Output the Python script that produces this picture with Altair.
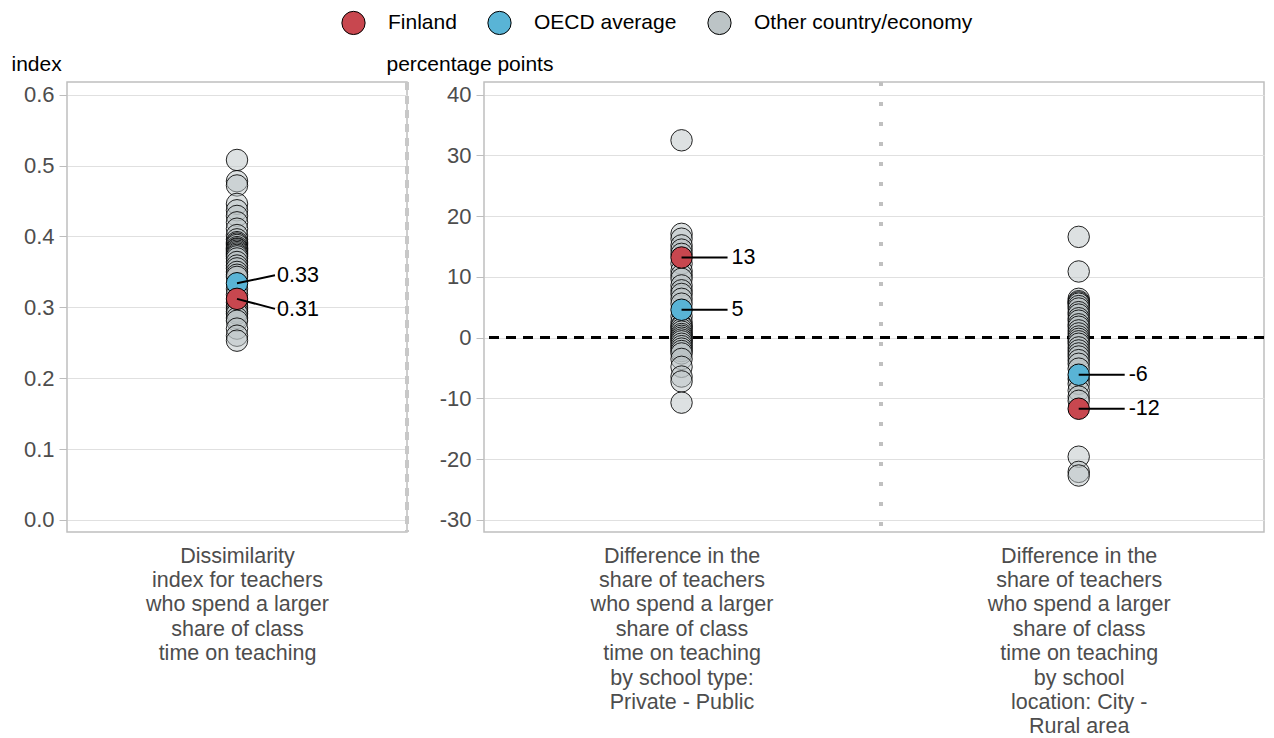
import altair as alt
import pandas as pd

FONT = "Arial, Liberation Sans, sans-serif"

group_names = ["Finland", "OECD average", "Other country/economy"]
group_colors = ["#c8474f", "#59b4d6", "#bcc4c6"]

left_cat = "Dissimilarity\nindex for teachers\nwho spend a larger\nshare of class\ntime on teaching"
mid_cat = "Difference in the\nshare of teachers\nwho spend a larger\nshare of class\ntime on teaching\nby school type:\nPrivate - Public"
right_cat = "Difference in the\nshare of teachers\nwho spend a larger\nshare of class\ntime on teaching\nby school\nlocation: City -\nRural area"

left_other = [0.508, 0.478, 0.472, 0.446, 0.437, 0.429, 0.420, 0.411, 0.402, 0.396,
              0.392, 0.390, 0.388, 0.385, 0.383, 0.382, 0.380, 0.378, 0.376, 0.374,
              0.372, 0.369, 0.364, 0.359, 0.355, 0.350, 0.346, 0.343, 0.326, 0.318,
              0.307, 0.302, 0.298, 0.294, 0.291, 0.285, 0.281, 0.270, 0.260, 0.253]
left_finland = 0.312
left_oecd = 0.334

mid_other = [32.5, 17.1, 16.3, 15.2, 14.5, 13.8, 12.2, 11.0, 10.3, 9.7, 8.6, 7.8, 7.2,
             6.4, 5.6, 3.5, 2.6, 2.0, 1.8, 1.4, 1.0, 0.6, 0.3, 0.0, -0.3, -0.6, -1.0,
             -1.4, -1.8, -2.2, -2.6, -3.5, -4.8, -6.4, -7.2, -10.7]
mid_finland = 13.2
mid_oecd = 4.6

right_other = [16.6, 10.9, 6.4, 6.0, 5.8, 5.6, 5.2, 4.8, 4.2, 3.8, 3.2, 2.8, 2.2, 1.8,
               1.2, 0.7, 0.2, -0.2, -0.6, -1.0, -1.6, -2.1, -2.6, -3.1, -3.7, -4.3,
               -5.1, -6.8, -7.6, -8.7, -9.7, -10.4, -19.6, -22.1, -22.7]
right_finland = -11.7
right_oecd = -6.1

left_ticks = [0.0, 0.1, 0.2, 0.3, 0.4, 0.5, 0.6]
right_ticks = [-30, -20, -10, 0, 10, 20, 30, 40]


def make_df(cat, others, fin, oecd, fmt):
    rows = [{"cat": cat, "value": v, "group": group_names[2], "label": ""} for v in others]
    rows.append({"cat": cat, "value": oecd, "group": group_names[1], "label": format(oecd, fmt)})
    rows.append({"cat": cat, "value": fin, "group": group_names[0], "label": format(fin, fmt)})
    return rows


left_df = pd.DataFrame(make_df(left_cat, left_other, left_finland, left_oecd, ".2f"))
right_df = pd.DataFrame(make_df(mid_cat, mid_other, mid_finland, mid_oecd, ".0f")
                        + make_df(right_cat, right_other, right_finland, right_oecd, ".0f"))

W_L, W_R, H = 340, 780, 450

fill_enc = alt.Fill(
    "group:N",
    scale=alt.Scale(domain=group_names, range=group_colors),
    legend=alt.Legend(orient="none", legendX=274, legendY=-72, direction="horizontal",
                      title=None, symbolType="circle", symbolSize=540,
                      symbolStrokeColor="black", symbolStrokeWidth=1, symbolOpacity=1,
                      labelFontSize=21, labelColor="black", labelFont=FONT,
                      labelOffset=22, columnPadding=28, padding=0, labelLimit=0),
)


def yaxis(title, values, fmt, title_x):
    return alt.Axis(title=title, values=values, format=fmt,
                    labelExpr="replace(datum.label, '\u2212', '-')",
                    titleAngle=0, titleAlign="left", titleBaseline="middle",
                    titleX=title_x, titleY=-18, grid=True, gridColor="#e0e0e0",
                    domain=False, tickColor="#bdbdbd", tickSize=8, labelPadding=5,
                    labelFontSize=22, labelColor="#4d4d4d", labelFont=FONT,
                    titleFontSize=21, titleFontWeight="normal", titleColor="black",
                    titleFont=FONT)


xaxis = alt.Axis(title=None, labelExpr="split(datum.label, '\\n')", labelAngle=0,
                 ticks=False, domain=False, labelPadding=13, labelFontSize=21.5,
                 labelColor="#4d4d4d", labelFont=FONT, labelLineHeight=24.4,
                 labelBaseline="top", labelLimit=0, grid=False)


def panel(df, cats, xscale, ydomain, yax, width, extra_back, extra_front_specs):
    base = alt.Chart(df)
    x = alt.X("cat:N", scale=alt.Scale(type="point", domain=cats, **xscale), axis=xaxis)
    y = alt.Y("value:Q", scale=alt.Scale(domain=ydomain, nice=False, zero=False), axis=yax)
    others = base.transform_filter(alt.datum.group == group_names[2]).mark_circle(
        size=460, fillOpacity=0.5, stroke="black", strokeWidth=1, strokeOpacity=0.85
    ).encode(x=x, y=y, fill=fill_enc)
    highlights = base.transform_filter(alt.datum.group != group_names[2]).mark_circle(
        size=460, opacity=1, stroke="black", strokeWidth=1
    ).encode(x=x, y=y, fill=fill_enc)
    front = []
    for grp, x2o, y2o, dx, dy in extra_front_specs:
        sub = base.transform_filter(alt.datum.group == grp)
        front.append(sub.mark_rule(color="black", strokeWidth=2, x2Offset=x2o, y2Offset=y2o)
                     .encode(x=x, x2=alt.X2("cat"), y=y, y2=alt.Y2("value")))
        front.append(sub.mark_text(align="left", baseline="middle", dx=dx, dy=dy,
                                   fontSize=21.5, font=FONT, color="black")
                     .encode(x=x, y=y, text="label:N"))
    return alt.layer(*extra_back, others, highlights, *front).properties(width=width, height=H)


left_back = [
    alt.Chart(left_df).mark_rule(stroke="#c8c8c8", strokeWidth=3, strokeDash=[8, 6])
    .encode(x=alt.value(W_L), y=alt.value(0), y2=alt.value(H))
]
left = panel(left_df, [left_cat], {"padding": 0.5}, [-0.017, 0.618],
             yaxis("index", left_ticks, ".1f", -56), W_L, left_back,
             [(group_names[1], 38, -8, 40, -7), (group_names[0], 38, 10, 40, 11)])

right_back = [
    alt.Chart(right_df).mark_rule(color="black", strokeWidth=2, strokeDash=[10, 7])
    .encode(y=alt.datum(0)),
    alt.Chart(right_df).mark_rule(color="#c0c0c0", strokeWidth=4, strokeDash=[4, 16])
    .encode(x=alt.value(397)),
]
right = panel(right_df, [mid_cat, right_cat], {"padding": 0.482, "align": 0.516},
              [-32.0, 42.1],
              yaxis("percentage points", right_ticks, "d", -98), W_R, right_back,
              [(group_names[1], 46, 0, 50, 0), (group_names[0], 46, 0, 50, 0)])

chart = (
    alt.hconcat(left, right, spacing=77, bounds="flush")
    .resolve_scale(y="independent", x="independent")
    .configure_view(stroke="#bfbfbf", strokeWidth=1.5)
    .properties(padding={"left": 2, "top": 2, "right": 0, "bottom": 0}, background="white")
)

chart.save("out.html", embed_options={"renderer": "svg", "actions": False})
